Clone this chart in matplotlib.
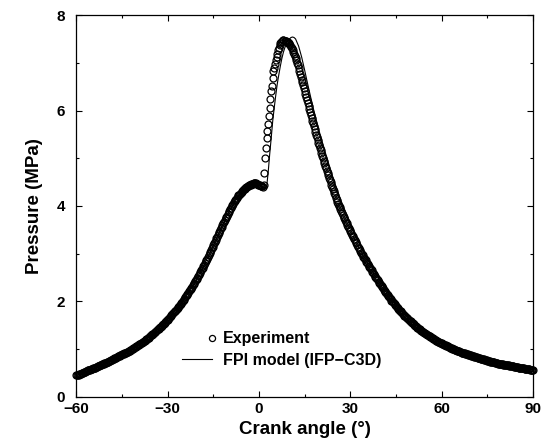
import numpy as np
import matplotlib
matplotlib.use("Agg")
import matplotlib.pyplot as plt
from matplotlib.legend_handler import HandlerLine2D
from matplotlib.ticker import MultipleLocator

plt.rcParams['font.family'] = ['Liberation Sans', 'DejaVu Sans']
plt.rcParams['font.weight'] = 'bold'

# ---------------- data ----------------
# Experiment, compression: crank angle -60 .. 1.0 deg, every 0.25 deg
exp_comp_start, exp_comp_step = -60.0, 0.25
exp_comp_p = [
    0.45, 0.455, 0.46, 0.465, 0.47, 0.48, 0.49, 0.495,
    0.50, 0.51, 0.52, 0.525, 0.53, 0.54, 0.55, 0.555,
    0.56, 0.565, 0.57, 0.575, 0.58, 0.59, 0.60, 0.605,
    0.61, 0.615, 0.62, 0.63, 0.64, 0.645, 0.65, 0.66,
    0.67, 0.675, 0.68, 0.69, 0.70, 0.705, 0.71, 0.72,
    0.73, 0.735, 0.74, 0.75, 0.76, 0.765, 0.77, 0.78,
    0.79, 0.80, 0.81, 0.815, 0.82, 0.83, 0.84, 0.85,
    0.86, 0.865, 0.87, 0.88, 0.89, 0.895, 0.90, 0.91,
    0.92, 0.93, 0.94, 0.945, 0.95, 0.96, 0.97, 0.98,
    0.99, 1.00, 1.01, 1.02, 1.03, 1.04, 1.05, 1.06,
    1.07, 1.08, 1.09, 1.10, 1.11, 1.125, 1.14, 1.15,
    1.16, 1.17, 1.18, 1.195, 1.21, 1.22, 1.23, 1.245,
    1.26, 1.275, 1.29, 1.30, 1.31, 1.325, 1.34, 1.355,
    1.37, 1.385, 1.40, 1.415, 1.43, 1.445, 1.46, 1.475,
    1.49, 1.505, 1.52, 1.535, 1.55, 1.57, 1.59, 1.605,
    1.62, 1.64, 1.66, 1.675, 1.69, 1.71, 1.73, 1.75,
    1.77, 1.79, 1.81, 1.83, 1.85, 1.87, 1.89, 1.91,
    1.93, 1.95, 1.97, 1.995, 2.02, 2.04, 2.06, 2.085,
    2.11, 2.135, 2.16, 2.185, 2.21, 2.235, 2.26, 2.285,
    2.31, 2.335, 2.36, 2.39, 2.42, 2.445, 2.47, 2.50,
    2.53, 2.56, 2.59, 2.62, 2.65, 2.68, 2.71, 2.74,
    2.77, 2.805, 2.84, 2.87, 2.90, 2.935, 2.97, 3.005,
    3.04, 3.075, 3.11, 3.145, 3.18, 3.215, 3.25, 3.285,
    3.32, 3.355, 3.39, 3.425, 3.46, 3.495, 3.53, 3.565,
    3.60, 3.635, 3.67, 3.705, 3.74, 3.77, 3.80, 3.835,
    3.87, 3.90, 3.93, 3.96, 3.99, 4.02, 4.05, 4.075,
    4.10, 4.125, 4.15, 4.175, 4.20, 4.22, 4.24, 4.26,
    4.28, 4.30, 4.32, 4.335, 4.35, 4.365, 4.38, 4.39,
    4.40, 4.41, 4.42, 4.43, 4.44, 4.45, 4.46, 4.465,
    4.47, 4.475, 4.48, 4.48, 4.48, 4.47, 4.46, 4.45,
    4.44, 4.43, 4.42, 4.415, 4.41,
]
# Experiment, combustion: 1.25 .. 8.0 deg, every 0.25 deg
exp_comb_start, exp_comb_step = 1.25, 0.25
exp_comb_p = [
    4.40, 4.45, 4.70, 5.00, 5.22, 5.42, 5.58, 5.72, 5.88, 6.05,
    6.25, 6.40, 6.52, 6.68, 6.82, 6.90, 6.98, 7.06, 7.13, 7.19,
    7.26, 7.32, 7.37, 7.41, 7.44, 7.46, 7.47, 7.47,
]
# Experiment, expansion: 8.5 .. 90 deg, every 0.25 deg
exp_exp_start, exp_exp_step = 8.5, 0.25
exp_exp_p = [
    7.46, 7.455, 7.45, 7.44, 7.43, 7.41, 7.39, 7.365,
    7.34, 7.305, 7.27, 7.23, 7.19, 7.145, 7.10, 7.05,
    7.00, 6.945, 6.89, 6.83, 6.77, 6.71, 6.65, 6.59,
    6.53, 6.465, 6.40, 6.34, 6.28, 6.215, 6.15, 6.09,
    6.03, 5.97, 5.91, 5.85, 5.79, 5.73, 5.67, 5.61,
    5.55, 5.495, 5.44, 5.385, 5.33, 5.275, 5.22, 5.165,
    5.11, 5.055, 5.00, 4.95, 4.90, 4.845, 4.79, 4.74,
    4.69, 4.64, 4.59, 4.545, 4.50, 4.45, 4.40, 4.355,
    4.31, 4.265, 4.22, 4.175, 4.13, 4.09, 4.05, 4.01,
    3.97, 3.93, 3.89, 3.85, 3.81, 3.775, 3.74, 3.705,
    3.67, 3.635, 3.60, 3.565, 3.53, 3.50, 3.47, 3.435,
    3.40, 3.37, 3.34, 3.31, 3.28, 3.25, 3.22, 3.185,
    3.15, 3.115, 3.08, 3.05, 3.02, 2.995, 2.97, 2.94,
    2.91, 2.885, 2.86, 2.83, 2.80, 2.775, 2.75, 2.725,
    2.70, 2.675, 2.65, 2.62, 2.59, 2.565, 2.54, 2.515,
    2.49, 2.465, 2.44, 2.415, 2.39, 2.365, 2.34, 2.32,
    2.30, 2.275, 2.25, 2.225, 2.20, 2.18, 2.16, 2.135,
    2.11, 2.09, 2.07, 2.045, 2.02, 2.00, 1.98, 1.96,
    1.94, 1.92, 1.90, 1.88, 1.86, 1.845, 1.83, 1.81,
    1.79, 1.775, 1.76, 1.74, 1.72, 1.705, 1.69, 1.675,
    1.66, 1.645, 1.63, 1.615, 1.60, 1.585, 1.57, 1.555,
    1.54, 1.525, 1.51, 1.495, 1.48, 1.465, 1.45, 1.44,
    1.43, 1.415, 1.40, 1.39, 1.38, 1.365, 1.35, 1.34,
    1.33, 1.32, 1.31, 1.30, 1.29, 1.28, 1.27, 1.26,
    1.25, 1.24, 1.23, 1.22, 1.21, 1.20, 1.19, 1.18,
    1.17, 1.16, 1.15, 1.145, 1.14, 1.13, 1.12, 1.11,
    1.10, 1.095, 1.09, 1.08, 1.07, 1.065, 1.06, 1.05,
    1.04, 1.035, 1.03, 1.02, 1.01, 1.005, 1.00, 0.99,
    0.98, 0.975, 0.97, 0.965, 0.96, 0.955, 0.95, 0.94,
    0.93, 0.925, 0.92, 0.915, 0.91, 0.905, 0.90, 0.895,
    0.89, 0.885, 0.88, 0.875, 0.87, 0.865, 0.86, 0.855,
    0.85, 0.845, 0.84, 0.835, 0.83, 0.825, 0.82, 0.815,
    0.81, 0.805, 0.80, 0.795, 0.79, 0.785, 0.78, 0.775,
    0.77, 0.765, 0.76, 0.755, 0.75, 0.745, 0.74, 0.735,
    0.73, 0.73, 0.73, 0.725, 0.72, 0.715, 0.71, 0.705,
    0.70, 0.70, 0.70, 0.695, 0.69, 0.685, 0.68, 0.675,
    0.67, 0.67, 0.67, 0.665, 0.66, 0.66, 0.66, 0.655,
    0.65, 0.645, 0.64, 0.64, 0.64, 0.635, 0.63, 0.625,
    0.62, 0.62, 0.62, 0.615, 0.61, 0.61, 0.61, 0.605,
    0.60, 0.60, 0.60, 0.595, 0.59, 0.59, 0.59, 0.585,
    0.58, 0.575, 0.57, 0.57, 0.57, 0.565, 0.56,
]

# FPI model (IFP-C3D)
model_angle = [
    -60, -58, -56, -54, -52, -50, -48, -46, -44, -42, -40, -38, -36, -34,
    -32, -30, -28, -26, -24, -22, -20, -18, -16, -14, -12, -10, -8, -6,
    -4, -2, -1, 0, 1, 1.5, 2.0, 2.5, 3.0, 3.5, 4.0, 4.5, 5.0, 5.5, 6.0,
    6.5, 7.0, 7.5, 8.0, 8.5, 9.0, 9.5, 10.0, 10.5, 11.0, 11.5, 12.0, 13,
    14, 15, 16, 17, 18, 19, 20, 21, 22, 23, 24, 25, 26, 27, 28, 29, 30,
    32, 34, 36, 38, 40, 44, 48, 52, 56, 60, 65, 70, 75, 80, 85, 90,
]
model_p = [
    0.45, 0.50, 0.56, 0.61, 0.67, 0.73, 0.79, 0.86, 0.92, 0.99, 1.07, 1.16,
    1.26, 1.37, 1.49, 1.62, 1.77, 1.93, 2.11, 2.31, 2.53, 2.77, 3.04, 3.32,
    3.60, 3.87, 4.10, 4.28, 4.40, 4.47, 4.48, 4.44, 4.41, 4.39, 4.39, 4.40,
    4.70, 5.08, 5.42, 5.78, 6.06, 6.32, 6.56, 6.75, 6.93, 7.09, 7.22, 7.32,
    7.40, 7.46, 7.50, 7.53, 7.54, 7.53, 7.50, 7.35, 7.12, 6.84, 6.55, 6.27,
    6.00, 5.75, 5.51, 5.29, 5.07, 4.86, 4.65, 4.46, 4.27, 4.10, 3.94, 3.78,
    3.64, 3.35, 3.08, 2.85, 2.63, 2.41, 2.03, 1.72, 1.48, 1.29, 1.14, 0.98,
    0.87, 0.77, 0.69, 0.62, 0.57,
]

x_ticks = [-60, -30, 0, 30, 60, 90]
y_ticks = [0, 2, 4, 6, 8]

# ---------------- figure ----------------
exp_angle = np.concatenate([
    exp_comp_start + exp_comp_step * np.arange(len(exp_comp_p)),
    exp_comb_start + exp_comb_step * np.arange(len(exp_comb_p)),
    exp_exp_start + exp_exp_step * np.arange(len(exp_exp_p)),
])
exp_p = np.concatenate([exp_comp_p, exp_comb_p, exp_exp_p])

fig = plt.figure(figsize=(5.49, 4.43), dpi=100)
ax = fig.add_axes([0.139, 0.104, 0.832, 0.862])

ax.plot(exp_angle, exp_p, linestyle='none', marker='o', markersize=5.0,
        markerfacecolor='none', markeredgecolor='black', markeredgewidth=0.9,
        label='Experiment', clip_on=False, zorder=3)
ax.plot(model_angle, model_p, color='black', linewidth=0.8,
        label='FPI model (IFP\u2212C3D)')

ax.set_xlim(-60, 90)
ax.set_ylim(0, 8)
ax.set_xticks(x_ticks)
ax.set_yticks(y_ticks)
ax.xaxis.set_minor_locator(MultipleLocator(15))
ax.yaxis.set_minor_locator(MultipleLocator(1))
ax.tick_params(which='both', direction='in', top=True, right=True, width=0.8)
ax.tick_params(which='major', length=4)
ax.tick_params(which='minor', length=2.2)
ax.tick_params(axis='x', which='major', pad=4, labelsize=11)
ax.tick_params(axis='y', which='major', pad=8, labelsize=11)
for lab in ax.get_xticklabels() + ax.get_yticklabels():
    lab.set_fontweight('bold')
for s in ax.spines.values():
    s.set_linewidth(0.9)

ax.set_xlabel('Crank angle (\u00b0)', fontsize=13.5, fontweight='bold', labelpad=3)
ax.set_ylabel('Pressure (MPa)', fontsize=13.5, fontweight='bold', labelpad=10)


class MarkerRight(HandlerLine2D):
    def create_artists(self, *args, **kwargs):
        arts = super().create_artists(*args, **kwargs)
        for a in arts:
            if a.get_marker() not in (None, 'None', '', ' '):
                a.set_markevery([2])
                a.set_markersize(4.4)
        return arts


leg = ax.legend(loc='upper left', bbox_to_anchor=(0.231, 0.172), frameon=False,
                borderpad=0, borderaxespad=0, handlelength=1.9, handletextpad=0.7,
                labelspacing=0.42, numpoints=1, prop={'size': 11.5, 'weight': 'bold'},
                handler_map={ax.lines[0]: MarkerRight()})

fig.savefig('out.png', dpi=100)
